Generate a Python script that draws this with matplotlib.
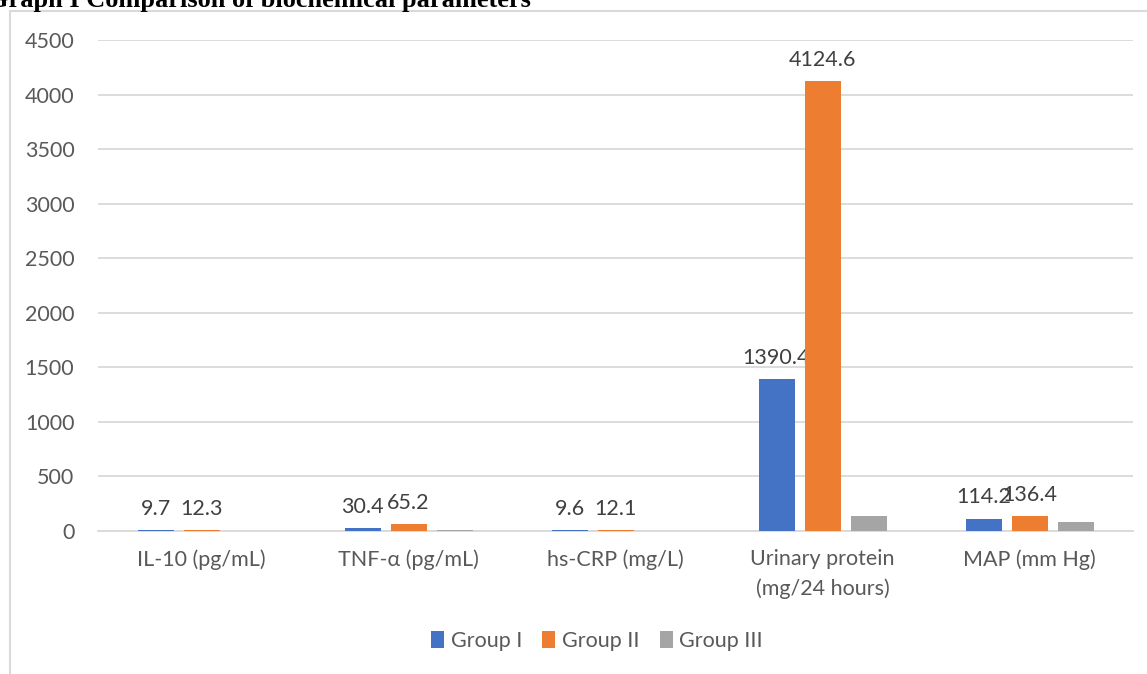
import matplotlib.pyplot as plt
from matplotlib.patches import Rectangle
import numpy as np

categories = ['IL-10 (pg/mL)', 'TNF-α (pg/mL)', 'hs-CRP (mg/L)',
              'Urinary protein\n(mg/24 hours)', 'MAP (mm Hg)']
group_names = ['Group I', 'Group II', 'Group III']
group1 = [9.7, 30.4, 9.6, 1390.4, 114.2]
group2 = [12.3, 65.2, 12.1, 4124.6, 136.4]
group3 = [4.0, 8.0, 4.0, 140.0, 85.0]  # not labelled in the source
colors = ['#4472c4', '#ed7d31', '#a5a5a5']

W, H = 1147, 674
plt.rcParams['font.family'] = ['Lato', 'DejaVu Sans']
text_col = '#595959'
grid_col = '#d9d9d9'
fs = 15.5

fig = plt.figure(figsize=(W / 100, H / 100), dpi=100)
ax = fig.add_axes([98 / W, (H - 531) / H, (1133 - 98) / W, (531 - 40) / H])

# chart area border
fig.patches.append(Rectangle((10 / W, -0.1), 1.2, (H - 11) / H + 0.1, transform=fig.transFigure,
                             fill=False, edgecolor=grid_col, linewidth=1.5))

x = np.arange(len(categories))
bw = 36 / 207
step = 46 / 207
series = [group1, group2, group3]
for i, (vals, name, c) in enumerate(zip(series, group_names, colors)):
    bars = ax.bar(x + (i - 1) * step, vals, bw, color=c, label=name, zorder=3)
    if i < 2:
        ax.bar_label(bars, labels=[f'{v:g}' for v in vals], padding=8,
                     fontsize=fs, color='#404040')

ax.set_xlim(-0.5, 4.5)
ax.set_ylim(0, 4500)
ax.set_yticks(np.arange(0, 4501, 500))
ax.yaxis.grid(True, color=grid_col, linewidth=1.3, zorder=0)
for s in ['top', 'right', 'left']:
    ax.spines[s].set_visible(False)
ax.spines['bottom'].set_color(grid_col)
ax.spines['bottom'].set_linewidth(1.3)
ax.tick_params(axis='both', length=0, labelsize=fs, labelcolor=text_col)
ax.tick_params(axis='y', pad=17)
ax.tick_params(axis='x', pad=13)
ax.set_xticks(x)
ax.set_xticklabels(categories, linespacing=1.55)

fig.legend(loc='center', bbox_to_anchor=(597 / W, (H - 641) / H), ncol=3, frameon=False,
           fontsize=fs, labelcolor=text_col, handlelength=0.6, handleheight=0.8,
           handletextpad=0.3, columnspacing=0.95)

fig.text(-12 / W, (H - 7) / H, 'Graph I Comparison of biochemical parameters',
         family='Liberation Serif', fontweight='bold', fontsize=19, va='baseline', ha='left')

fig.savefig('out.png', dpi=100)
